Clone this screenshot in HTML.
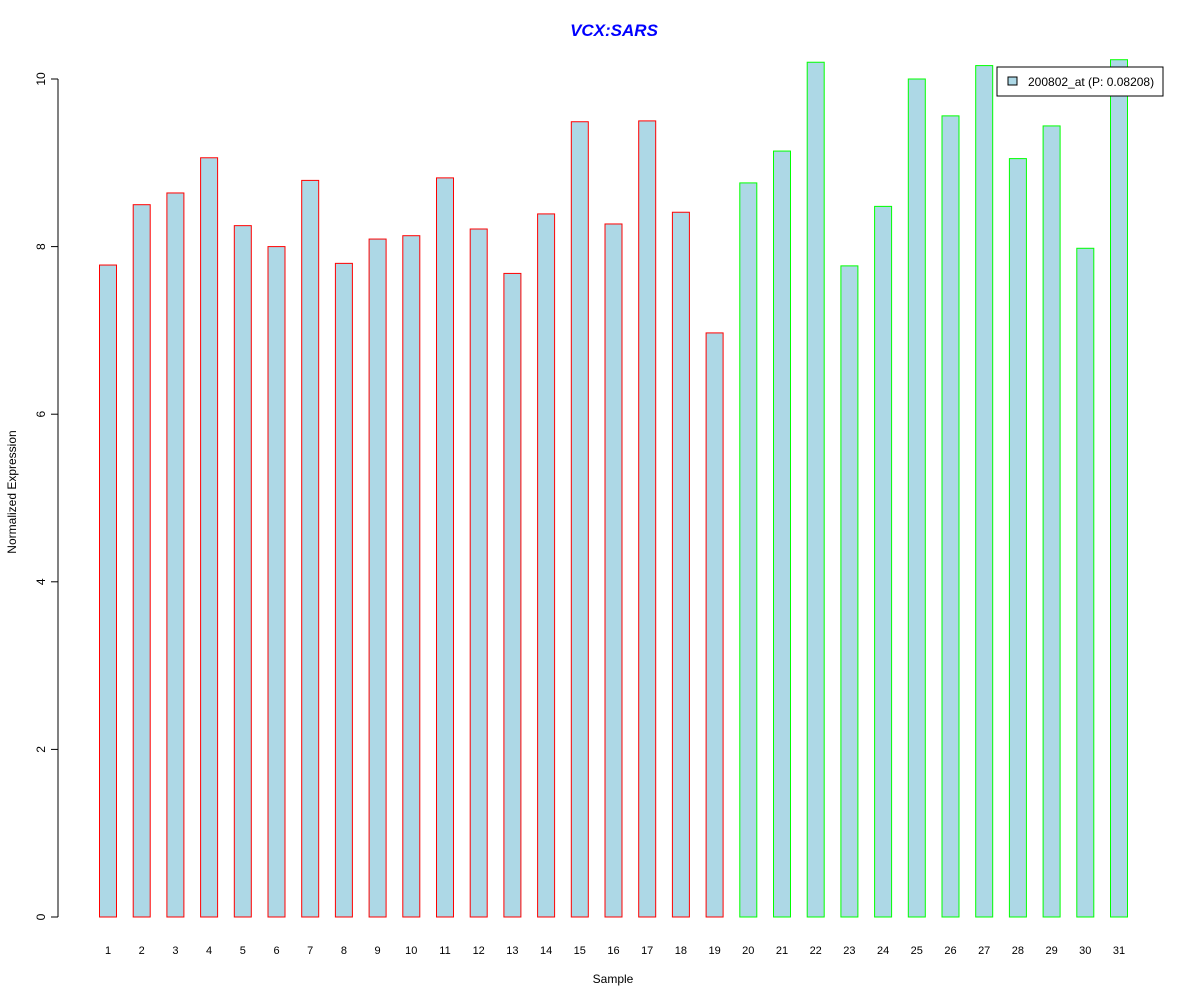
<!DOCTYPE html>
<html><head><meta charset="utf-8"><style>
body{margin:0;background:#fff;}
svg{display:block;font-family:"Liberation Sans",Arial,sans-serif;}
</style></head><body>
<svg id="chart" width="1200" height="1000">
<text x="614" y="36" text-anchor="middle" font-size="17" font-weight="bold" font-style="italic" fill="#0000ff">VCX:SARS</text>
<text x="613" y="983" text-anchor="middle" font-size="12" fill="#000">Sample</text>
<text transform="translate(16,492) rotate(-90)" text-anchor="middle" font-size="12" fill="#000">Normalized Expression</text>
<g id="yaxis"></g>
<g id="bars"></g>
<g id="xlabels"></g>
<g>
<rect x="997" y="67" width="166" height="29" fill="#fff" stroke="#000" stroke-width="1"/>
<rect x="1008" y="77" width="9" height="8" fill="#add8e6" stroke="#000" stroke-width="1"/>
<text x="1028" y="86" font-size="12" fill="#000">200802_at (P: 0.08208)</text>
</g>
</svg>
<script>
const categories=["1","2","3","4","5","6","7","8","9","10","11","12","13","14","15","16","17","18","19","20","21","22","23","24","25","26","27","28","29","30","31"];
const values=[7.78,8.50,8.64,9.06,8.25,8.00,8.79,7.80,8.09,8.13,8.82,8.21,7.68,8.39,9.49,8.27,9.50,8.41,6.97,8.76,9.14,10.20,7.77,8.48,10.00,9.56,10.16,9.05,9.44,7.98,10.23];
const groups=["a","a","a","a","a","a","a","a","a","a","a","a","a","a","a","a","a","a","a","b","b","b","b","b","b","b","b","b","b","b","b"];
const yTicks=[0,2,4,6,8,10];
const NS="http://www.w3.org/2000/svg";
function y(v){return 917-v*83.8;}
function x(i){return 108+i*33.7;}
const ya=document.getElementById('yaxis');
function mk(tag,attrs,parent){const e=document.createElementNS(NS,tag);for(const k in attrs)e.setAttribute(k,attrs[k]);parent.appendChild(e);return e;}
const axl=mk('line',{x1:58,x2:58,y1:y(0),y2:y(10),stroke:'#000'},ya);


yTicks.forEach(t=>{
 const l=mk('line',{x1:51,x2:58,y1:y(t),y2:y(t),stroke:'#000'},ya);
 
 
 const tx=mk('text',{transform:`translate(45,${y(t)}) rotate(-90)`,'text-anchor':'middle','font-size':12},ya);
 tx.textContent=t;
 
 
});
const bg=document.getElementById('bars'),xl=document.getElementById('xlabels');
values.forEach((v,i)=>{
 const r=mk('rect',{x:x(i)-8.5,y:y(v),width:17,height:y(0)-y(v),fill:'#add8e6',stroke:groups[i]==='a'?'#ff0000':'#00ff00','stroke-width':1},bg);
 
 
 const t=mk('text',{x:x(i),y:954,'text-anchor':'middle','font-size':11},xl);
 t.textContent=categories[i];
 
 
});
</script>
</body></html>
